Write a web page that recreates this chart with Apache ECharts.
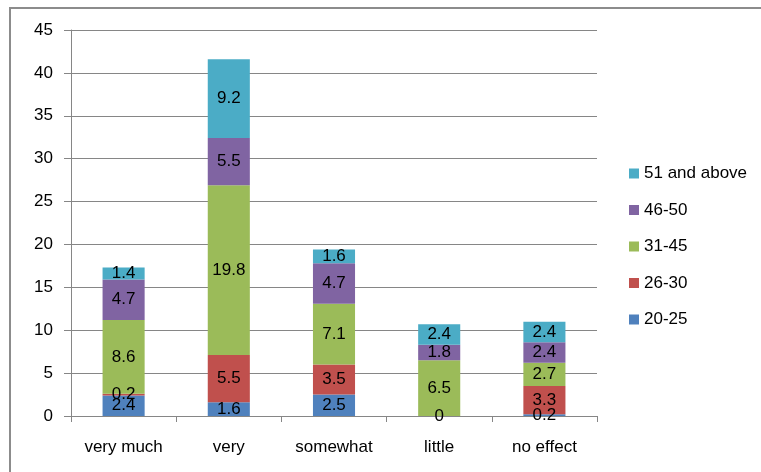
<!DOCTYPE html>
<html><head><meta charset="utf-8">
<script src="https://cdn.jsdelivr.net/npm/echarts@6/dist/echarts.min.js"></script>
<style>html,body{margin:0;padding:0;background:#fff;}#c{width:761px;height:472px;}</style>
</head><body><div id="c"></div>
<script>
var categories = ['very much', 'very', 'somewhat', 'little', 'no effect'];
var s20_25 = [2.4, 1.6, 2.5, 0, 0.2];
var s26_30 = [0.2, 5.5, 3.5, null, 3.3];
var s31_45 = [8.6, 19.8, 7.1, 6.5, 2.7];
var s46_50 = [4.7, 5.5, 4.7, 1.8, 2.4];
var s51 = [1.4, 9.2, 1.6, 2.4, 2.4];
var seriesNames = ['20-25', '26-30', '31-45', '46-50', '51 and above'];
var colors = ['#4F81BD', '#C0504D', '#9BBB59', '#8064A2', '#4BACC6'];
var yTicks = {min: 0, max: 45, interval: 5};

var font = 'Liberation Sans, Arial, sans-serif';
var chart = echarts.init(document.getElementById('c'));
var data = [s20_25, s26_30, s31_45, s46_50, s51];
var series = data.map(function (d, i) {
  return {
    name: seriesNames[i], type: 'bar', stack: 'a', data: d, barWidth: '40%',
    itemStyle: {color: colors[i]},
    label: {show: true, position: 'inside', color: '#000', fontFamily: font, fontSize: 17}
  };
});
chart.setOption({
  animation: false,
  color: colors,
  graphic: [{type: 'rect', shape: {x: 10, y: 8, width: 800, height: 500}, style: {fill: 'none', stroke: '#8c8c8c', lineWidth: 2}, silent: true}],
  grid: {left: 71, top: 30, width: 526, height: 386, containLabel: false},
  legend: {
    orient: 'vertical', left: 624, top: 160, itemWidth: 10, itemHeight: 10, itemGap: 19.5,
    icon: 'rect',
    data: seriesNames.slice().reverse(),
    textStyle: {fontFamily: font, fontSize: 17, lineHeight: 14, color: '#000'}
  },
  xAxis: {
    type: 'category', data: categories,
    axisLine: {lineStyle: {color: '#868686'}},
    axisTick: {show: true, length: 6, lineStyle: {color: '#868686'}},
    axisLabel: {color: '#000', fontFamily: font, fontSize: 17, margin: 23}
  },
  yAxis: {
    type: 'value', min: yTicks.min, max: yTicks.max, interval: yTicks.interval,
    axisLine: {show: true, lineStyle: {color: '#868686'}},
    axisTick: {show: true, length: 7, lineStyle: {color: '#868686'}},
    splitLine: {lineStyle: {color: '#868686'}},
    axisLabel: {color: '#000', fontFamily: font, fontSize: 17, margin: 18}
  },
  series: series
});
</script></body></html>
